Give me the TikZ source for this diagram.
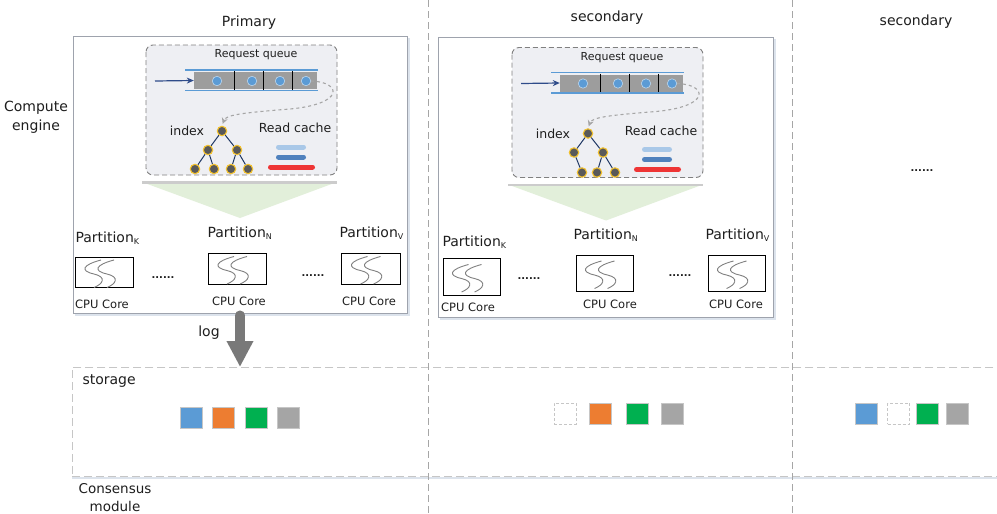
\documentclass[tikz,border=0pt]{standalone}
\usepackage{fontspec}
\setmainfont{DejaVu Sans}
\usetikzlibrary{arrows.meta}
\definecolor{qblue}{HTML}{5B9BD5}
\definecolor{navy}{HTML}{2F4C8A}
\definecolor{treeedge}{HTML}{203864}
\definecolor{treenode}{HTML}{595959}
\definecolor{gold}{HTML}{F2C12E}
\definecolor{cachelight}{HTML}{A9C8E8}
\definecolor{cachemid}{HTML}{4F81BD}
\definecolor{cachered}{HTML}{EE3535}
\definecolor{sqorange}{HTML}{ED7D31}
\definecolor{sqgreen}{HTML}{00B050}
\definecolor{sqgray}{HTML}{A5A5A5}
\definecolor{funnel}{HTML}{E2EFDA}
\definecolor{innerfill}{HTML}{EEEFF3}
\definecolor{boxedge}{HTML}{9EA3AD}
\definecolor{sepgray}{HTML}{A6A6A6}
\definecolor{qgray}{HTML}{9D9D9D}
\definecolor{txtc}{HTML}{1E1E1E}
\definecolor{storefill}{HTML}{FFFFFF}
\definecolor{shadowc}{HTML}{DCE3EC}
\tikzset{
 txt/.style={font=\fontsize{14}{16}\selectfont, text=txtc},
 smalltxt/.style={font=\fontsize{11}{12}\selectfont, text=txtc},
 cputxt/.style={font=\fontsize{11.5}{13}\selectfont, text=txtc},
 outerbox/.style={draw=boxedge, line width=0.9pt, fill=white},
 innerbox/.style={draw=gray, dash pattern=on 5pt off 3pt, line width=0.9pt, rounded corners=7pt, fill=innerfill},
 qdot/.style={circle, minimum size=8pt, fill=qblue, draw=white!60!qblue, line width=0.6pt},
 tnode/.style={circle, minimum size=8.5pt, fill=treenode, draw=gold, line width=1.1pt},
 tedge/.style={draw=treeedge, line width=1pt},
 cpubox/.style={draw=black, line width=0.9pt, fill=white},
 squig/.style={draw=gray, line width=0.9pt},
 sq/.style={minimum width=22pt, minimum height=21pt, draw=gray!45, line width=0.8pt},
 sqempty/.style={sq, fill=white, dash pattern=on 3pt off 2pt},
 sepline/.style={draw=sepgray, dash pattern=on 7pt off 4pt, line width=0.9pt},
 cachebar/.style={line width=5pt, line cap=round},
 storebox/.style={draw=gray!45, dash pattern=on 8pt off 4pt, line width=0.9pt, fill=storefill},
}
\newcommand\squiggles[1]{%
  \begin{scope}[shift={(#1.center)}]
    \draw[squig] (-3,-12) .. controls (-22,-7) and (-24,-1) .. (-10,2) .. controls (3,5) and (-1,12) .. (-10,15.5);
    \draw[squig] (10,-12) .. controls (-9,-7) and (-11,-1) .. (3,2) .. controls (16,5) and (12,12) .. (3,15.5);
  \end{scope}}
\newcommand\computeinner{%
  \draw[innerbox] (146,45) rectangle (337,175);
  \node[smalltxt] (rq) at (256,55) {Request queue};
  \node[fill=qgray, minimum width=123pt, minimum height=17pt] (queue) at (255.5,80.5) {};
  \draw[qblue, line width=1.5pt] (185,70) -- (318,70);
  \draw[qblue, line width=1.5pt] (185,90.5) -- (318,90.5);
  \foreach \xx in {234,263,292} \draw[black, line width=1pt] (\xx,71) -- (\xx,89.5);
  \node[qdot] (q1) at (217,81) {};
  \node[qdot] (q2) at (252,81) {};
  \node[qdot] (q3) at (280,81) {};
  \node[qdot] (q4) at (306,81) {};
  \coordinate (qin) at (155,81);
  \draw[navy, line width=1.2pt, -{Stealth[length=7pt,width=6pt]}] (qin) -- (queue.west);
  \node[txt, font=\fontsize{12.5}{14}\selectfont] (idx) at (187,131) {index};
  \node[txt, font=\fontsize{12.5}{14}\selectfont] (rc) at (295,128) {Read cache};
  \draw[cachebar, cachelight] (278.5,147) -- (303.5,147);
  \draw[cachebar, cachemid] (278.5,157) -- (303.5,157);
  \draw[cachebar, cachered] (270.5,167) -- (312.5,167);
  \fill[funnel] (142,182) -- (337,182) -- (240,218) -- cycle;
  \draw[gray!40, line width=2.5pt] (142,182.5) -- (337,182.5);
}
\newcommand\queuecurve{%
  \draw[sepgray, dashed, line width=1.1pt, shorten >=2pt, -{Stealth[length=6pt,width=6pt]}] (q4.east) .. controls (342,82) and (345,104) .. (290,109) .. controls (240,113) and (226,115) .. (root.north);
}
\begin{document}
\begin{tikzpicture}[x=1pt,y=-1pt]
\useasboundingbox (0,0) rectangle (997,514);
\clip (0,0) rectangle (997,514);
\fill[white] (0,0) rectangle (997,514);

% separator end points
\coordinate (sep1t) at (428,0);
\coordinate (sep1b) at (428,514);
\coordinate (sep2t) at (792,0);
\coordinate (sep2b) at (792,514);

% titles
\node[txt] (tprim) at (249,23) {Primary};
\node[txt] (tsec1) at (607,18) {secondary};
\node[txt] (tsec2) at (916,22) {secondary};
\node[txt, align=center, font=\fontsize{14}{19}\selectfont] (ce) at (36,117) {Compute\\ engine};

% storage
\draw[shadowc, line width=2pt] (72,478) -- (997,478);
\node[storebox, anchor=north west, minimum width=940pt, minimum height=109pt] (store) at (72,367) {};
\draw[sepline] (sep1t) -- (sep1b);
\draw[sepline] (sep2t) -- (sep2b);
\node[txt, anchor=west] (stl) at (79,381) {storage};
\node[txt, align=center, font=\fontsize{13.5}{18}\selectfont] (cm) at (115,498) {Consensus\\ module};

% outer boxes
\draw[shadowc, line width=2pt] (75,315) -- (409,315) -- (409,38);
\node[outerbox, minimum width=334pt, minimum height=277pt] (prim) at (240,174.5) {};
\draw[shadowc, line width=2pt] (440,319) -- (775,319) -- (775,39);
\node[outerbox, minimum width=335pt, minimum height=280pt] (sec) at (605.5,177) {};

% primary inner
\begin{scope}
  \computeinner
  \node[tnode] (root) at (222,131) {};
  \node[tnode] (tl) at (208,150) {};
  \node[tnode] (tr) at (237,150) {};
  \node[tnode] (l1) at (195,169) {};
  \node[tnode] (l2) at (214,169) {};
  \node[tnode] (l3) at (231,169) {};
  \node[tnode] (l4) at (248,169) {};
  \draw[tedge] (root) -- (tl);
  \draw[tedge] (root) -- (tr);
  \draw[tedge] (tl) -- (l1);
  \draw[tedge] (tl) -- (l2);
  \draw[tedge] (tr) -- (l3);
  \draw[tedge] (tr) -- (l4);
  \queuecurve
\end{scope}

% secondary inner
\begin{scope}[shift={(366,2.5)}, name prefix=s-]
  \computeinner
  \node[tnode] (root) at (222,131) {};
  \node[tnode] (tl) at (208,150) {};
  \node[tnode] (tr) at (237,150) {};
  \node[tnode] (l1) at (216,170) {};
  \node[tnode] (l3) at (231,170) {};
  \node[tnode] (l4) at (249,170) {};
  \draw[tedge] (root) -- (tl);
  \draw[tedge] (root) -- (tr);
  \draw[tedge] (tl) -- (l1);
  \draw[tedge] (tr) -- (l3);
  \draw[tedge] (tr) -- (l4);
  \queuecurve
\end{scope}

% primary partitions
\node[txt, anchor=west] (ppk) at (72,238) {Partition\raisebox{-2.5pt}{\fontsize{8}{8}\selectfont K}};
\node[txt, anchor=west] (ppn) at (204,233) {Partition\raisebox{-2.5pt}{\fontsize{8}{8}\selectfont N}};
\node[txt, anchor=west] (ppv) at (336,233) {Partition\raisebox{-2.5pt}{\fontsize{8}{8}\selectfont V}};
\node[cpubox, minimum width=58pt, minimum height=30pt] (cpk) at (104,272) {};
\node[cpubox, minimum width=58pt, minimum height=31pt] (cpn) at (237,268.5) {};
\node[cpubox, minimum width=59pt, minimum height=31pt] (cpv) at (370.5,268.5) {};
\squiggles{cpk}\squiggles{cpn}\squiggles{cpv}
\node[cputxt] (ck) at (102,304) {CPU Core};
\node[cputxt] (cn) at (239,301) {CPU Core};
\node[cputxt] (cv) at (369,301) {CPU Core};
\node[cputxt, font=\bfseries\fontsize{10}{12}\selectfont] (d1) at (163,278) {......};
\node[cputxt, font=\bfseries\fontsize{10}{12}\selectfont] (d2) at (313,276) {......};

% secondary partitions
\node[txt, anchor=west] (spk) at (439,242) {Partition\raisebox{-2.5pt}{\fontsize{8}{8}\selectfont K}};
\node[txt, anchor=west] (spn) at (570,235) {Partition\raisebox{-2.5pt}{\fontsize{8}{8}\selectfont N}};
\node[txt, anchor=west] (spv) at (702,235) {Partition\raisebox{-2.5pt}{\fontsize{8}{8}\selectfont V}};
\node[cpubox, minimum width=57pt, minimum height=37pt] (csk) at (471.5,276.5) {};
\node[cpubox, minimum width=57pt, minimum height=36pt] (csn) at (604.5,273) {};
\node[cpubox, minimum width=57pt, minimum height=36pt] (csv) at (736.5,273) {};
\squiggles{csk}\squiggles{csn}\squiggles{csv}
\node[cputxt] (sck) at (468,307) {CPU Core};
\node[cputxt] (scn) at (610,304) {CPU Core};
\node[cputxt] (scv) at (736,304) {CPU Core};
\node[cputxt, font=\bfseries\fontsize{10}{12}\selectfont] (sd1) at (529,279) {......};
\node[cputxt, font=\bfseries\fontsize{10}{12}\selectfont] (sd2) at (680,276) {......};

% third column
\node[cputxt, font=\bfseries\fontsize{10}{12}\selectfont] (td) at (922,171) {......};

% log arrow
\node[txt] (logl) at (209,333) {log};
\draw[color=gray!95!black, line width=10pt, -{Triangle[width=25pt,length=26pt]}] ([yshift=-2pt]prim.south) -- (prim.south |- store.north);
\fill[gray!95!black] ([yshift=-2pt]prim.south) circle (5pt);

% storage squares
\node[sq, fill=qblue] (a1) at (191,417.5) {};
\node[sq, fill=sqorange] (a2) at (223,417.5) {};
\node[sq, fill=sqgreen] (a3) at (256,417.5) {};
\node[sq, fill=sqgray] (a4) at (288,417.5) {};
\node[sqempty] (b1) at (565,413.5) {};
\node[sq, fill=sqorange] (b2) at (600.5,413.5) {};
\node[sq, fill=sqgreen] (b3) at (637,413.5) {};
\node[sq, fill=sqgray] (b4) at (672.5,413.5) {};
\node[sq, fill=qblue] (c1) at (866.5,413.5) {};
\node[sqempty] (c2) at (898.5,413.5) {};
\node[sq, fill=sqgreen] (c3) at (927.5,413.5) {};
\node[sq, fill=sqgray] (c4) at (957,413.5) {};
\end{tikzpicture}
\end{document}
